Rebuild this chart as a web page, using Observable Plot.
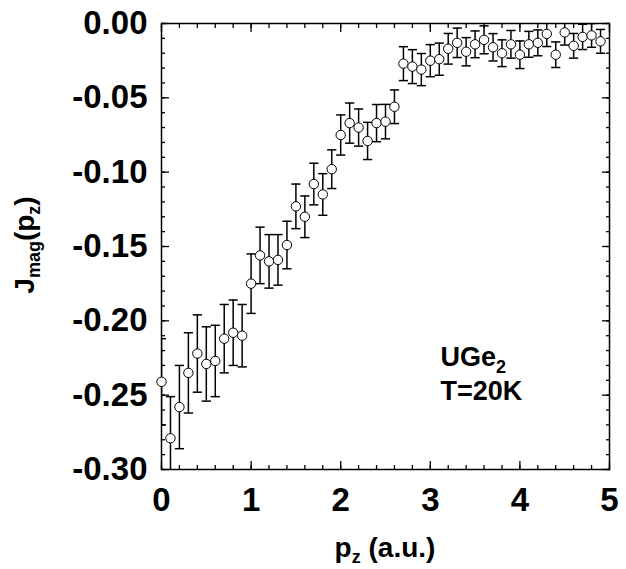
<!DOCTYPE html>
<html><head><meta charset="utf-8">
<script src="https://cdn.jsdelivr.net/npm/d3@7"></script>
<script src="https://cdn.jsdelivr.net/npm/@observablehq/plot@0.6"></script>
<style>
body{margin:0;background:#fff;}
svg{font-family:"Liberation Sans",Arial,sans-serif;}
</style>
</head><body><div id="chart"></div>
<script>
const pz = [0.0,0.1,0.2,0.3,0.4,0.5,0.6,0.7,0.8,0.9,
            1.0,1.1,1.2,1.3,1.4,1.5,1.6,1.7,1.8,1.9,
            2.0,2.1,2.2,2.3,2.4,2.5,2.6,2.7,2.8,2.9,
            3.0,3.1,3.2,3.3,3.4,3.5,3.6,3.7,3.8,3.9,
            4.0,4.1,4.2,4.3,4.4,4.5,4.6,4.7,4.8,4.9];
const jmag = [-0.241,-0.279,-0.258,-0.235,-0.222,-0.229,-0.227,-0.212,-0.208,-0.210,
              -0.175,-0.156,-0.160,-0.159,-0.149,-0.123,-0.130,-0.108,-0.115,-0.098,
              -0.075,-0.067,-0.070,-0.079,-0.067,-0.066,-0.056,-0.027,-0.029,-0.031,
              -0.025,-0.024,-0.017,-0.013,-0.019,-0.014,-0.011,-0.016,-0.020,-0.014,
              -0.021,-0.014,-0.013,-0.007,-0.021,-0.006,-0.015,-0.009,-0.008,-0.012];
const jerr = [0.029,0.028,0.028,0.027,0.026,0.025,0.024,0.023,0.022,0.021,
              0.020,0.019,0.018,0.017,0.016,0.015,0.014,0.014,0.014,0.013,
              0.0135,0.0135,0.0125,0.0125,0.0125,0.0116,0.0113,0.0114,0.0114,0.0108,
              0.0108,0.0108,0.0103,0.0099,0.0095,0.0090,0.0094,0.0092,0.0090,0.0093,
              0.0093,0.0087,0.0087,0.0085,0.0086,0.0085,0.0083,0.0085,0.0080,0.0080];
const xTicks = [0,1,2,3,4,5];
const xTickLabels = ["0","1","2","3","4","5"];
const yTicks = [0,-0.05,-0.10,-0.15,-0.20,-0.25,-0.30];
const yTickLabels = ["0.00","-0.05","-0.10","-0.15","-0.20","-0.25","-0.30"];
const sampleName = ["UGe","2"];
const tempLabel = "T=20K";

const data = pz.map((x,i)=>({x, y: jmag[i], e: jerr[i]}));

const cap = {draw(ctx, size){ const w = Math.sqrt(size/Math.PI); ctx.moveTo(-w,0); ctx.lineTo(w,0); }};

const plot = Plot.plot({
  width: 626, height: 569,
  marginLeft: 161, marginRight: 17, marginTop: 23, marginBottom: 100,
  x: {domain:[0,5]},
  y: {domain:[-0.3,0]},
  style: {fontFamily:"Liberation Sans, Arial, sans-serif", color:"black", background:"white"},
  marks: [
    // minor ticks
    Plot.axisX({anchor:"bottom", interval:0.2, tickSize:-4, text:null, label:null, strokeWidth:1.3}),
    Plot.axisX({anchor:"top", interval:0.2, tickSize:-4, text:null, label:null, strokeWidth:1.3}),
    Plot.axisY({anchor:"left", interval:0.01, tickSize:-4, text:null, label:null, strokeWidth:1.3}),
    Plot.axisY({anchor:"right", interval:0.01, tickSize:-4, text:null, label:null, strokeWidth:1.3}),
    // major ticks
    Plot.axisX(xTicks, {anchor:"bottom", tickSize:-8, text:null, label:null, strokeWidth:1.3}),
    Plot.axisX(xTicks, {anchor:"top", tickSize:-8, text:null, label:null, strokeWidth:1.3}),
    Plot.axisY(yTicks, {anchor:"left", tickSize:-8, text:null, label:null, strokeWidth:1.3}),
    Plot.axisY(yTicks, {anchor:"right", tickSize:-8, text:null, label:null, strokeWidth:1.3}),
    // tick labels
    Plot.axisX(xTicks, {anchor:"bottom", tickSize:0, tickPadding:18, label:null,
      tickFormat:(d)=>xTickLabels[xTicks.indexOf(d)], fontSize:33, fontWeight:"bold"}),
    Plot.axisY(yTicks, {anchor:"left", tickSize:0, tickPadding:14, label:null,
      tickFormat:(d)=>yTickLabels[yTicks.indexOf(d)], fontSize:33, fontWeight:"bold"}),
    Plot.frame({stroke:"black", strokeWidth:1.5}),
    // error bars
    Plot.ruleX(data, {x:"x", y1:d=>d.y-d.e, y2:d=>d.y+d.e, stroke:"black", strokeWidth:1.5, clip:true}),
    Plot.dot(data, {x:"x", y:d=>d.y+d.e, symbol:cap, r:4.6, stroke:"black", fill:"none", strokeWidth:1.5, clip:true}),
    Plot.dot(data, {x:"x", y:d=>d.y-d.e, symbol:cap, r:4.6, stroke:"black", fill:"none", strokeWidth:1.5, clip:true}),
    Plot.dot(data, {x:"x", y:"y", r:4.7, fill:"white", stroke:"black", strokeWidth:1})
  ]
});
document.getElementById("chart").appendChild(plot);

const svg = d3.select(plot);
const sx = plot.scale("x"), sy = plot.scale("y");

// x title
const xt = svg.append("text").attr("x", 385).attr("y", 557).attr("text-anchor","middle")
  .attr("font-size", 28).attr("font-weight","bold").attr("fill","black");
xt.append("tspan").text("p");
xt.append("tspan").attr("font-size",18).attr("dy",6).text("z");
xt.append("tspan").attr("dy",-6).text(" (a.u.)");

// y title
const yt = svg.append("text").attr("transform","translate(34,245) rotate(-90)").attr("text-anchor","middle")
  .attr("font-size", 28).attr("font-weight","bold").attr("fill","black");
yt.append("tspan").text("J");
yt.append("tspan").attr("font-size",18).attr("dy",6).text("mag");
yt.append("tspan").attr("dy",-6).text("(p");
yt.append("tspan").attr("font-size",18).attr("dy",6).text("z");
yt.append("tspan").attr("dy",-6).text(")");

// annotation
const ax = sx.apply(3.12);
const a1 = svg.append("text").attr("x", ax).attr("y", sy.apply(-0.2307)).attr("text-anchor","start")
  .attr("font-size", 27).attr("font-weight","bold").attr("fill","black");
a1.append("tspan").text(sampleName[0]);
a1.append("tspan").attr("font-size",18).attr("dy",7).text(sampleName[1]);
svg.append("text").attr("x", ax).attr("y", sy.apply(-0.2535)).attr("text-anchor","start")
  .attr("font-size", 27).attr("font-weight","bold").attr("fill","black").text(tempLabel);
</script>
</body></html>
